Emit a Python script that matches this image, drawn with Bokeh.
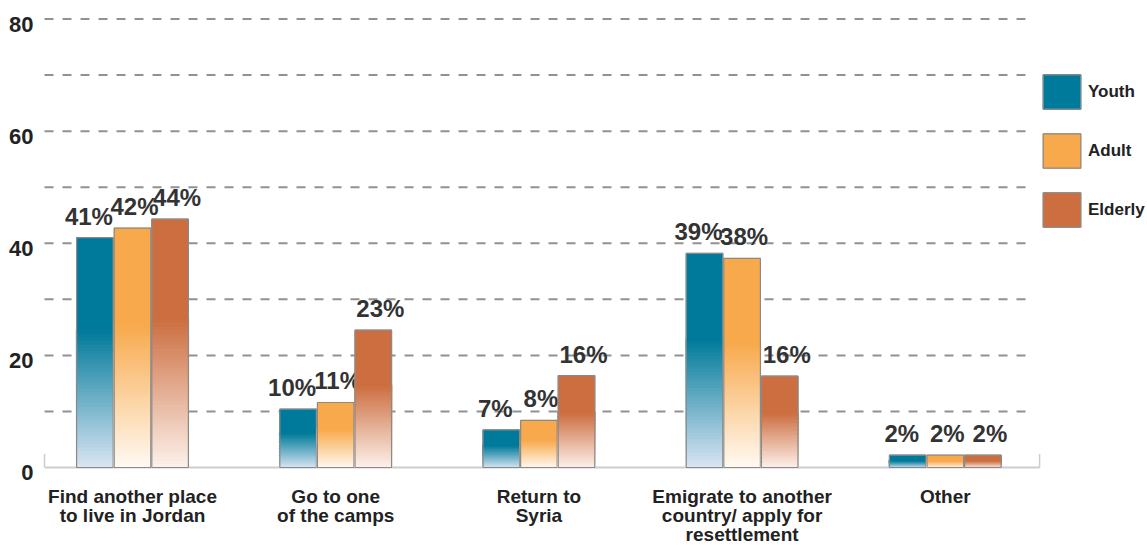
from bokeh.plotting import figure
from bokeh.models import ColumnDataSource, Range1d, Legend, LegendItem
from bokeh.core.properties import value
from bokeh.embed import file_html
from bokeh.resources import INLINE

# ---------------- data ----------------
categories = ["Find another place\nto live in Jordan",
              "Go to one\nof the camps",
              "Return to\nSyria",
              "Emigrate to another\ncountry/ apply for\nresettlement",
              "Other"]
series = ["Youth", "Adult", "Elderly"]
youth = [41.0, 10.4, 6.7, 38.2, 2.2]
adult = [42.7, 11.6, 8.4, 37.3, 2.2]
elderly = [44.3, 24.5, 16.4, 16.3, 2.2]
youth_labels = ["41%", "10%", "7%", "39%", "2%"]
adult_labels = ["42%", "11%", "8%", "38%", "2%"]
elderly_labels = ["44%", "23%", "16%", "16%", "2%"]
y_tick_values = [0, 20, 40, 60, 80]
y_tick_labels = ["0", "20", "40", "60", "80"]
grid_values = [10, 20, 30, 40, 50, 60, 70, 80]

# ---------------- style ----------------
FONT = "Liberation Sans"
top_colors = ["#007a9a", "#f8a94c", "#cc6e40"]
bottom_colors = ["#dbe6f4", "#fffaf3", "#fdf2ec"]
offsets = [-0.185, 0.0, 0.185]
label_dx = [-6, 2, 7]
BAR_W = 0.18
FADE = 0.6
NSEG = 40
X_LEFT, X_RIGHT = -0.6496, 4.995     # visible x range
X_START = -0.433                      # left end of plot area (axis start)
AXIS_END = 4.464                      # right end of baseline
GRID_END = 4.424                      # right end of dashed grid lines

def hex2rgb(h):
    h = h.lstrip("#")
    return tuple(int(h[i:i + 2], 16) for i in (0, 2, 4))

def mix(c1, c2, t):
    a, b = hex2rgb(c1), hex2rgb(c2)
    return "#%02x%02x%02x" % tuple(int(round(a[i] + (b[i] - a[i]) * t)) for i in range(3))

p = figure(width=1147, height=545, output_backend="svg", toolbar_location=None,
           x_range=Range1d(X_LEFT, X_RIGHT), y_range=Range1d(-13.91, 83.3),
           x_axis_location=None, y_axis_location=None,
           min_border_left=0, min_border_right=0, min_border_top=0,
           min_border_bottom=0)
p.outline_line_color = None
p.xgrid.visible = False
p.ygrid.visible = False

# dashed grid lines
p.segment(x0=[X_START] * len(grid_values), x1=[GRID_END] * len(grid_values),
          y0=grid_values, y1=grid_values, line_color="#919191", line_width=2,
          line_dash="9 9")
# baseline with end stubs
p.segment(x0=[X_START], x1=[AXIS_END], y0=[0], y1=[0], line_color="#cdcdcd", line_width=2)
p.segment(x0=[X_START, AXIS_END], x1=[X_START, AXIS_END], y0=[0, 0], y1=[2.4, 2.4],
          line_color="#cdcdcd", line_width=1.5)

# y tick labels
ysrc = ColumnDataSource(dict(x=[X_START] * len(y_tick_values), y=y_tick_values, t=y_tick_labels))
p.text(x="x", y="y", text="t", source=ysrc, text_align="right", text_baseline="middle",
       x_offset=-11, y_offset=5, text_font=value(FONT), text_font_style="bold",
       text_font_size="22px", text_color="#222222")

values = [youth, adult, elderly]
labels = [youth_labels, adult_labels, elderly_labels]
legend_items = []
for s in range(3):
    xs = [i + offsets[s] for i in range(len(categories))]
    gx, gb, gt, gc = [], [], [], []
    for x, h in zip(xs, values[s]):
        for k in range(NSEG):
            gx.append(x)
            gb.append(h * FADE * k / NSEG)
            gt.append(h * FADE * (k + 1) / NSEG)
            gc.append(mix(bottom_colors[s], top_colors[s], (k + 0.5) / NSEG))
    gsrc = ColumnDataSource(dict(x=gx, bottom=gb, top=gt, color=gc))
    p.vbar(x="x", bottom="bottom", top="top", width=BAR_W, source=gsrc,
           fill_color="color", line_color="color", line_width=1.5)
    ssrc = ColumnDataSource(dict(x=xs, bottom=[h * FADE for h in values[s]], top=values[s]))
    solid = p.vbar(x="x", bottom="bottom", top="top", width=BAR_W, source=ssrc,
                   fill_color=top_colors[s], line_color=top_colors[s], line_width=1.0)
    osrc = ColumnDataSource(dict(x=xs, top=values[s]))
    outline = p.vbar(x="x", bottom=0, top="top", width=BAR_W, source=osrc,
                     fill_alpha=0, line_color="#8a8a8a", line_width=1.2)
    tsrc = ColumnDataSource(dict(x=xs, y=values[s], t=labels[s]))
    p.text(x="x", y="y", text="t", source=tsrc, text_align="center",
           text_baseline="bottom", x_offset=label_dx[s], y_offset=-8,
           text_font=value(FONT), text_font_style="bold",
           text_font_size="24px", text_color="#333333")
    legend_items.append(LegendItem(label=series[s], renderers=[solid, outline]))

# category labels under the baseline
csrc = ColumnDataSource(dict(x=list(range(len(categories))), y=[0] * len(categories),
                             t=categories))
p.text(x="x", y="y", text="t", source=csrc, text_align="center", text_baseline="top",
       y_offset=18, text_font=value(FONT), text_font_style="bold",
       text_font_size="19px", text_color="#222222", text_line_height=0.92)

legend = Legend(items=legend_items, location=(1038, 314), orientation="vertical",
                glyph_width=47, glyph_height=43, spacing=16, label_standoff=3,
                padding=0, margin=0, border_line_color=None,
                background_fill_alpha=0, label_text_font=FONT,
                label_text_font_style="bold", label_text_font_size="17px",
                label_text_color="#222222", label_height=43)
p.add_layout(legend, "center")

open("out.html", "w").write(file_html(p, INLINE))
